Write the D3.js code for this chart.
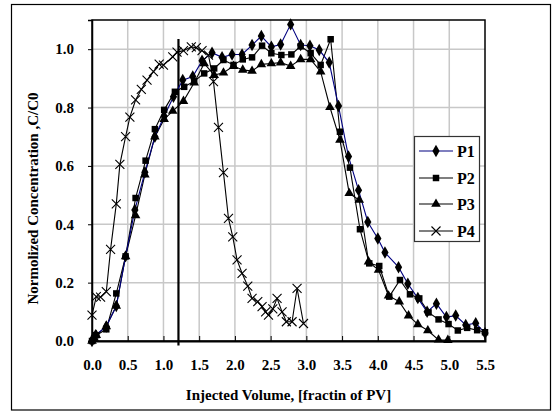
<!DOCTYPE html>
<html><head><meta charset="utf-8">
<script src="https://cdn.jsdelivr.net/npm/d3@7"></script>
<style>body{margin:0;background:#fff}svg{display:block}</style>
</head><body><svg id="c" width="552" height="413"></svg>
<script>
const p1x=[0,0.02,0.05,0.2,0.34,0.47,0.6,0.74,0.88,1.01,1.14,1.27,1.41,1.54,1.68,1.82,1.96,2.1,2.24,2.37,2.51,2.64,2.78,2.92,3.05,3.18,3.32,3.45,3.59,3.73,3.86,4.0,4.1,4.29,4.42,4.56,4.69,4.82,4.96,5.09,5.23,5.37,5.5];
const p1y=[0,0.01,0.02,0.05,0.12,0.29,0.449,0.578,0.70,0.77,0.837,0.894,0.906,0.96,0.988,0.972,0.982,0.982,1.014,1.045,1.008,1.016,1.085,1.014,1.012,0.997,0.954,0.805,0.632,0.517,0.408,0.351,0.303,0.253,0.196,0.147,0.10,0.128,0.082,0.087,0.055,0.061,0.027];
const p2x=[0,0.03,0.06,0.2,0.34,0.47,0.61,0.75,0.88,1.01,1.16,1.29,1.43,1.57,1.71,1.84,1.98,2.11,2.24,2.38,2.51,2.65,2.79,2.92,3.06,3.2,3.34,3.47,3.61,3.75,3.88,4.02,4.16,4.31,4.45,4.58,4.71,4.85,4.99,5.12,5.25,5.39,5.5];
const p2y=[0,0.01,0.02,0.04,0.163,0.29,0.49,0.618,0.726,0.792,0.854,0.871,0.89,0.917,0.934,0.963,0.946,0.965,0.972,1.012,0.986,0.98,0.982,1.01,0.986,0.946,1.034,0.717,0.594,0.383,0.266,0.257,0.152,0.209,0.16,0.146,0.098,0.074,0.058,0.036,0.045,0.037,0.03];
const p3x=[0,0.03,0.06,0.2,0.34,0.47,0.61,0.74,0.88,1.01,1.13,1.28,1.43,1.57,1.71,1.84,1.98,2.11,2.24,2.37,2.51,2.64,2.78,2.92,3.06,3.2,3.33,3.47,3.6,3.74,3.87,4.01,4.15,4.3,4.43,4.56,4.7,4.85,4.98];
const p3y=[0,0.01,0.02,0.05,0.12,0.29,0.43,0.57,0.70,0.76,0.788,0.822,0.885,0.951,0.911,0.919,0.942,0.929,0.925,0.948,0.951,0.954,0.942,0.965,0.965,0.923,0.801,0.689,0.506,0.483,0.272,0.243,0.155,0.135,0.087,0.057,0.036,0.004,0.003];
const p4x=[0,0.06,0.12,0.2,0.26,0.34,0.39,0.47,0.53,0.61,0.69,0.77,0.86,0.94,1.0,1.13,1.19,1.28,1.39,1.46,1.54,1.63,1.7,1.77,1.84,1.91,1.97,2.03,2.1,2.18,2.24,2.32,2.38,2.43,2.47,2.53,2.59,2.66,2.72,2.8,2.87,2.96];
const p4y=[0.089,0.152,0.15,0.169,0.314,0.47,0.605,0.70,0.767,0.826,0.862,0.894,0.923,0.949,0.945,0.974,0.99,0.995,1.008,1.005,0.995,0.98,0.889,0.732,0.577,0.42,0.357,0.278,0.232,0.188,0.146,0.135,0.118,0.10,0.089,0.11,0.146,0.10,0.066,0.066,0.18,0.06];
const seriesNames=["P1","P2","P3","P4"];
const xTicks=[0,0.5,1,1.5,2,2.5,3,3.5,4,4.5,5,5.5];
const yTicks=[0,0.2,0.4,0.6,0.8,1.0];
const refLineX=1.21, refLineY=[-0.015,1.035];

const FF='"Liberation Serif","DejaVu Serif","Times New Roman",serif';
const svg=d3.select("#c");
const L=92,R=485,T=20,B=341;
const x=d3.scaleLinear().domain([0,5.5]).range([L,R]);
const y=d3.scaleLinear().domain([0,1.1]).range([B,T]);

svg.append("rect").attr("x",11.5).attr("y",4.5).attr("width",539).attr("height",405.5).attr("fill","#fff").attr("stroke","#000").attr("stroke-width",1.2);

svg.append("g").selectAll("line").data(xTicks.slice(1,-1)).join("line")
 .attr("x1",d=>x(d)).attr("x2",d=>x(d)).attr("y1",T).attr("y2",B).attr("stroke","#c8c8c8").attr("stroke-width",1.5);
svg.append("g").selectAll("line").data(yTicks.slice(1)).join("line")
 .attr("x1",L).attr("x2",R).attr("y1",d=>y(d)).attr("y2",d=>y(d)).attr("stroke","#c8c8c8").attr("stroke-width",1.5);

svg.append("rect").attr("x",L).attr("y",T).attr("width",R-L).attr("height",B-T).attr("fill","none").attr("stroke","#000").attr("stroke-width",1.5);

const xa=svg.append("g").attr("transform",`translate(0,${B})`).call(d3.axisBottom(x).tickValues(xTicks).tickSize(-5).tickPadding(18).tickFormat(d3.format(".1f")));
xa.select(".domain").attr("stroke-width",2);
const ya=svg.append("g").attr("transform",`translate(${L},0)`).call(d3.axisLeft(y).tickValues(yTicks).tickSize(4).tickPadding(14).tickFormat(d3.format(".1f")));
ya.select(".domain").attr("stroke-width",1.5);
[xa,ya].forEach(a=>{a.attr("font-family",FF).attr("font-size",15).attr("font-weight","bold");
  a.selectAll("text").attr("fill","#000").attr("font-family",FF).attr("font-weight","bold");});
svg.selectAll(".tick line").attr("stroke","#000");

svg.append("text").attr("x",(L+R)/2).attr("y",400).attr("text-anchor","middle").attr("font-size",15)
 .attr("font-family",FF).attr("font-weight","bold").text("Injected Volume, [fractin of PV]");
svg.append("text").attr("transform",`translate(38,${(T+B)/2+18}) rotate(-90)`).attr("text-anchor","middle").attr("font-size",15)
 .attr("font-family",FF).attr("font-weight","bold").text("Normolized Concentration ,C/C0");

svg.append("line").attr("x1",x(refLineX)).attr("x2",x(refLineX)).attr("y1",y(refLineY[0])).attr("y2",y(refLineY[1])).attr("stroke","#000").attr("stroke-width",2.2);

const data=[
 {name:"P1",xs:p1x,ys:p1y,color:"#000080",shape:"diamond"},
 {name:"P2",xs:p2x,ys:p2y,color:"#000",shape:"square"},
 {name:"P3",xs:p3x,ys:p3y,color:"#000",shape:"triangle"},
 {name:"P4",xs:p4x,ys:p4y,color:"#000",shape:"x"}
];
const sym={diamond:d3.symbol().type(d3.symbolDiamond).size(45),square:d3.symbol().type(d3.symbolSquare).size(42),triangle:d3.symbol().type(d3.symbolTriangle).size(40)};
function marker(g,shape,cx,cy){
  if(shape==="x"){
    const s=4.5;
    g.append("path").attr("d",`M${cx-s},${cy-s}L${cx+s},${cy+s}M${cx-s},${cy+s}L${cx+s},${cy-s}`).attr("stroke","#000").attr("stroke-width",1.1).attr("fill","none");
  } else {
    g.append("path").attr("d",sym[shape]()).attr("transform",`translate(${cx},${cy})`).attr("fill","#000");
  }
}
const line=d3.line().x(d=>x(d[0])).y(d=>y(d[1]));
const order=[3,2,1,0];
order.forEach(i=>{
  const s=data[i];
  const pts=s.xs.map((v,j)=>[v,s.ys[j]]);
  svg.append("path").datum(pts).attr("d",line).attr("fill","none").attr("stroke",s.color).attr("stroke-width",1.1);
});
order.forEach(i=>{
  const s=data[i];
  const g=svg.append("g");
  s.xs.forEach((v,j)=>marker(g,s.shape,x(v),y(s.ys[j])));
});

const lg=svg.append("g");
lg.append("rect").attr("x",414.5).attr("y",136.5).attr("width",65).attr("height",105).attr("fill","#fff").attr("stroke","#333").attr("stroke-width",1.2);
const ly=[151,178,204,231];
data.forEach((s,i)=>{
  lg.append("line").attr("x1",419).attr("x2",453).attr("y1",ly[i]).attr("y2",ly[i]).attr("stroke",s.color).attr("stroke-width",1.2);
  marker(lg,s.shape,436,ly[i]);
  lg.append("text").attr("x",457).attr("y",ly[i]+5.5).attr("font-size",16).attr("font-family",FF).attr("font-weight","bold").text(seriesNames[i]);
});
</script></body></html>
